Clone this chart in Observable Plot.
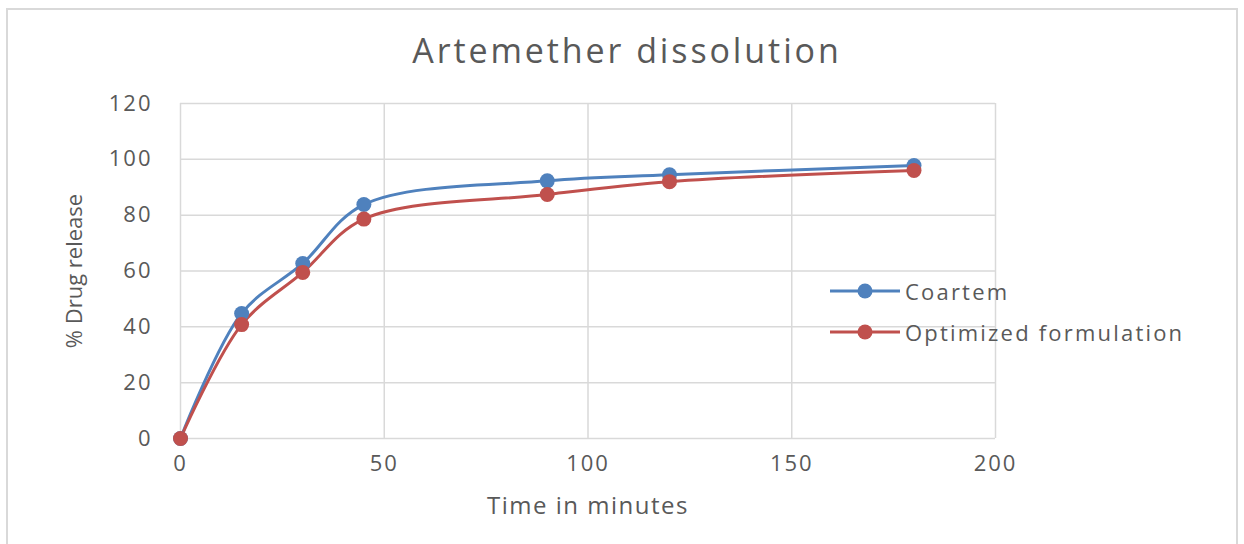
<!DOCTYPE html>
<html>
<head>
<meta charset="utf-8">
<script src="https://cdn.jsdelivr.net/npm/d3@7"></script>
<script src="https://cdn.jsdelivr.net/npm/@observablehq/plot@0.6"></script>
<style>
  html, body { margin: 0; padding: 0; background: #fff; }
  #wrap { position: relative; width: 1244px; height: 544px; overflow: hidden; font-family: "Open Sans", sans-serif; }
  #frame { position: absolute; left: 6px; top: 8px; width: 1232px; height: 560px; border: 2px solid #d9d9d9; box-sizing: border-box; }
  #title { position: absolute; left: 0; width: 1254px; top: 27px; text-align: center; font-size: 34px; color: #595959; letter-spacing: 2.9px; }
  #legend { position: absolute; left: 828px; top: 270px; font-size: 22px; color: #595959; letter-spacing: 2.2px; }
  .item { display: flex; align-items: center; height: 41px; }
  .item svg { margin-right: 3px; }
</style>
</head>
<body>
<div id="wrap">
  <div id="frame"></div>
  <div id="chart"></div>
  <div id="title"></div>
  <div id="legend"></div>
</div>
<script>
const titleText = "Artemether dissolution";
const xLabel = "Time in minutes";
const yLabel = "% Drug release";
const seriesNames = ["Coartem", "Optimized formulation"];
const seriesColors = ["#4F81BD", "#C0504D"];
const times = [0, 15, 30, 45, 90, 120, 180];
const coartem = [0, 44.8, 62.7, 83.8, 92.3, 94.5, 97.8];
const optimized = [0, 40.8, 59.5, 78.6, 87.4, 92.0, 96.0];
const xTicks = [0, 50, 100, 150, 200];
const yTicks = [0, 20, 40, 60, 80, 100, 120];

const data = [];
[coartem, optimized].forEach((vals, i) => {
  vals.forEach((v, j) => data.push({series: seriesNames[i], t: times[j], v}));
});

const grid = "#d9d9d9";
const txt = "#595959";

const chart = Plot.plot({
  width: 1244,
  height: 544,
  marginLeft: 180,
  marginRight: 249,
  marginTop: 103,
  marginBottom: 106,
  style: {fontFamily: "Open Sans, sans-serif", background: "transparent", overflow: "visible"},
  x: {domain: [0, 200]},
  y: {domain: [0, 120]},
  color: {domain: seriesNames, range: seriesColors},
  marks: [
    Plot.gridX(xTicks, {stroke: grid, strokeOpacity: 1, strokeWidth: 1.5}),
    Plot.gridY(yTicks, {stroke: grid, strokeOpacity: 1, strokeWidth: 1.5}),
    Plot.axisX(xTicks, {tickSize: 0, tickPadding: 17, fontSize: 22, color: txt, label: null}),
    Plot.axisX({tickSize: 0, ticks: [], fontSize: 24, color: txt, label: xLabel, labelAnchor: "center", labelOffset: 75, labelArrow: "none"}),
    Plot.axisY(yTicks, {tickSize: 0, tickPadding: 28, fontSize: 22, color: txt, label: null}),
    Plot.axisY({tickSize: 0, ticks: [], fontSize: 22, color: txt, label: yLabel, labelAnchor: "center", labelOffset: 114, labelArrow: "none"}),
    Plot.line(data, {x: "t", y: "v", z: "series", stroke: "series", strokeWidth: 3, curve: "catmull-rom"}),
    Plot.dot(data, {x: "t", y: "v", fill: "series", r: 7.5})
  ]
});
document.getElementById("chart").appendChild(chart);
d3.select(chart).selectAll("[aria-label='x-axis tick label'] text, [aria-label='y-axis tick label'] text").style("letter-spacing", "2px");
d3.select(chart).selectAll("[aria-label='x-axis label'] text").style("letter-spacing", "1.5px");

document.getElementById("title").textContent = titleText;
const legend = d3.select("#legend");
seriesNames.forEach((name, i) => {
  const it = legend.append("div").attr("class", "item");
  const s = it.append("svg").attr("width", 74).attr("height", 20);
  s.append("line").attr("x1", 2).attr("x2", 72).attr("y1", 10).attr("y2", 10).attr("stroke", seriesColors[i]).attr("stroke-width", 3);
  s.append("circle").attr("cx", 37).attr("cy", 10).attr("r", 7.5).attr("fill", seriesColors[i]);
  it.append("span").text(name);
});
</script>
</body>
</html>
